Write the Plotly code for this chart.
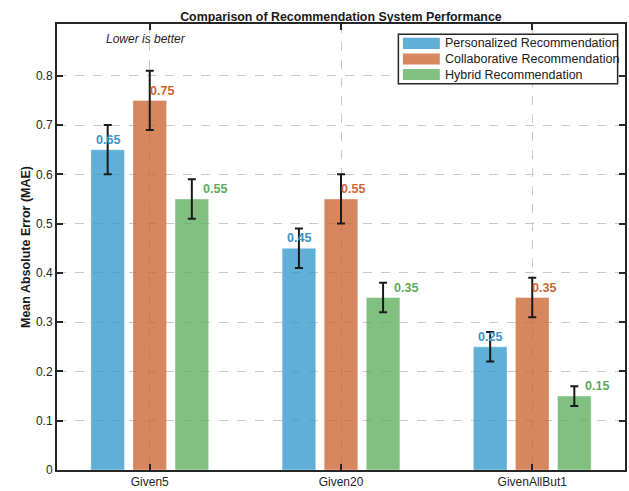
import plotly.graph_objects as go

categories = ["Given5", "Given20", "GivenAllBut1"]
series_names = ["Personalized Recommendation", "Collaborative Recommendation", "Hybrid Recommendation"]
personalized = [0.65, 0.45, 0.25]
collaborative = [0.75, 0.55, 0.35]
hybrid = [0.55, 0.35, 0.15]
personalized_err = [0.05, 0.04, 0.03]
collaborative_err = [0.06, 0.05, 0.04]
hybrid_err = [0.04, 0.03, 0.02]
y_ticks = [0, 0.1, 0.2, 0.3, 0.4, 0.5, 0.6, 0.7, 0.8]

values = [personalized, collaborative, hybrid]
errors = [personalized_err, collaborative_err, hybrid_err]
bar_colors = ["#3399CC", "#CC6633", "#5FAF5F"]
text_colors = ["#3A93C6", "#CC6633", "#5EAA5E"]
label_shift = [0, 12, 23]
slot = 0.22
OPA = 0.78

FONT = "Liberation Sans, Arial, Helvetica, sans-serif"
idx = list(range(len(categories)))

fig = go.Figure()
for k in range(3):
    fig.add_trace(go.Bar(
        x=idx, y=values[k], name=series_names[k], showlegend=False,
        marker=dict(color=bar_colors[k], opacity=OPA,
                    line=dict(color="rgba(255,255,255,0.5)", width=0.8)),
        error_y=dict(type="data", array=errors[k], color="#1a1a1a",
                     thickness=2, width=4),
    ))

annotations = []
for k in range(3):
    for i in idx:
        annotations.append(dict(
            x=i + (k - 1) * slot, y=values[k][i] + 0.02, xref="x", yref="y",
            text=f"<b>{values[k][i]:.2f}</b>", showarrow=False,
            xshift=label_shift[k], yanchor="middle", xanchor="center",
            font=dict(family=FONT, size=12.5, color=text_colors[k]),
        ))
annotations.append(dict(
    x=0.157, y=0.967, xref="paper", yref="paper", text="<i>Lower is better</i>",
    showarrow=False, xanchor="center", yanchor="middle",
    font=dict(family=FONT, size=12, color="#262626"),
))

# legend box (drawn in paper coordinates)
shapes = [dict(type="rect", xref="paper", yref="paper", x0=0.601, x1=0.987,
               y0=0.866, y1=0.977, line=dict(color="#262626", width=1.5),
               fillcolor="white", layer="above")]
row_y = [0.9567, 0.9216, 0.8867]
for k in range(3):
    shapes.append(dict(type="rect", xref="paper", yref="paper",
                       x0=0.609, x1=0.674, y0=row_y[k] - 0.0125, y1=row_y[k] + 0.0125,
                       line=dict(width=0), fillcolor=bar_colors[k], opacity=OPA,
                       layer="above"))
    annotations.append(dict(
        x=0.680, y=row_y[k], xref="paper", yref="paper", text=series_names[k],
        showarrow=False, xanchor="left", yanchor="middle",
        font=dict(family=FONT, size=12.5, color="#1a1a1a"),
    ))

fig.update_layout(
    width=629, height=491,
    margin=dict(l=57, r=2, t=24, b=15),
    paper_bgcolor="white", plot_bgcolor="white",
    barmode="group", bargap=0.34, bargroupgap=0.2,
    font=dict(family=FONT, size=12, color="#262626"),
    title=dict(text="<b>Comparison of Recommendation System Performance</b>",
               x=0.542, xanchor="center", y=0.966, yanchor="middle",
               font=dict(family=FONT, size=12.4, color="#1a1a1a")),
    annotations=annotations,
    shapes=shapes,
    showlegend=False,
)
fig.update_xaxes(
    range=[-0.485, 2.485], tickvals=idx, ticktext=categories,
    showgrid=True, gridcolor="#C8C8C8", griddash="dash", gridwidth=1,
    showline=True, linecolor="#262626", linewidth=2, mirror="ticks",
    ticks="inside", ticklen=6, tickwidth=2, tickcolor="#262626",
    zeroline=False, tickfont=dict(size=12, color="#262626"),
)
fig.update_yaxes(
    range=[0, 0.905], tickvals=y_ticks, ticktext=[f"{v:g}" for v in y_ticks],
    showgrid=True, gridcolor="#C8C8C8", griddash="dash", gridwidth=1,
    showline=True, linecolor="#262626", linewidth=2, mirror="ticks",
    ticks="inside", ticklen=6, tickwidth=2, tickcolor="#262626",
    zeroline=False, tickfont=dict(size=12, color="#262626"),
    title=dict(text="<b>Mean Absolute Error (MAE)</b>", standoff=3,
               font=dict(family=FONT, size=12.5, color="#1a1a1a")),
)
fig.write_html("out.html", config={"displayModeBar": False},
               post_script="document.body.style.margin='0';document.body.style.overflow='hidden';")
